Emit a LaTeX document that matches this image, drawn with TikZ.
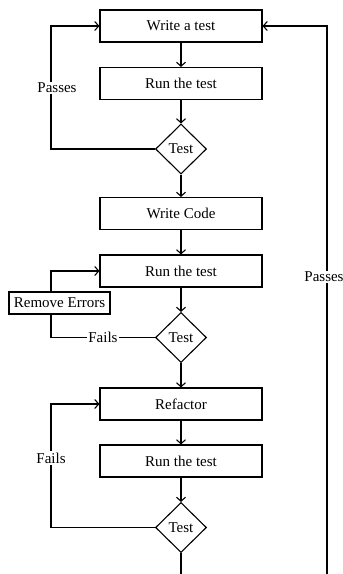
\documentclass[tikz,border=0pt]{standalone}
\usepackage{fontspec}
\setmainfont{Liberation Serif}
\usetikzlibrary{shapes.geometric,arrows.meta}
\begin{document}
\begin{tikzpicture}[x=1pt,y=-1pt,
  every node/.style={font=\fontsize{15}{18}\selectfont},
  box/.style={draw, line width=1.1pt, minimum width=162pt, minimum height=32pt, inner sep=0pt},
  dia/.style={draw, diamond, line width=1.1pt, minimum width=51pt, minimum height=50pt, inner sep=0pt},
  conn/.style={line width=1.1pt},
  arr/.style={conn, -{Straight Barb[length=4pt,width=9pt]}},
  lbl/.style={fill=white, inner sep=1.5pt}
]
\useasboundingbox (0,0) rectangle (343,574);

\node[box] (w1) at (181,26) {Write a test};
\node[box] (r1) at (181,83.5) {Run the test};
\node[dia] (d1) at (181,149) {Test};
\node[box] (wc) at (181,213.5) {Write Code};
\node[box] (r2) at (181,271) {Run the test};
\node[dia] (d2) at (181,337.5) {Test};
\node[box] (rf) at (181,404) {Refactor};
\node[box] (r3) at (181,461) {Run the test};
\node[dia] (d3) at (181,527.5) {Test};
\node[draw, line width=1.1pt, inner sep=3pt, minimum width=101pt, minimum height=22pt] (re) at (59.5,303) {Remove Errors};

\coordinate (lx) at (51,0);
\coordinate (rx) at (327,0);
\coordinate (bot) at (181,574);
\coordinate (rbot) at (327,574);

\draw[arr] (w1) -- (r1);
\draw[arr] (r1) -- (d1);
\draw[arr] (d1) -- (wc);
\draw[arr] (wc) -- (r2);
\draw[arr] (r2) -- (d2);
\draw[arr] (d2) -- (rf);
\draw[arr] (rf) -- (r3);
\draw[arr] (r3) -- (d3);
\draw[conn] (d3) -- (bot);

% first loop: Passes
\draw[arr] (d1.west) -- (d1.west -| lx) -- (w1.west -| lx) -- (w1.west);
\node[lbl] (p1) at (57,88) {Passes};

% second loop: Fails / Remove Errors
\draw[conn] (d2.west) -- node[lbl, pos=0.5] (f1) {Fails} (d2.west -| lx) -- (re.south -| lx);
\draw[arr] (re.north -| lx) -- (r2.west -| lx) -- (r2.west);

% third loop: Fails
\draw[arr] (d3.west) -- (d3.west -| lx) -- (rf.west -| lx) -- (rf.west);
\node[lbl] (f2) at (51,458) {Fails};

% right loop: Passes
\draw[arr] (rbot) -- (w1.east -| rx) -- (w1.east);
\node[lbl] (p2) at (324,277) {Passes};
\end{tikzpicture}
\end{document}
